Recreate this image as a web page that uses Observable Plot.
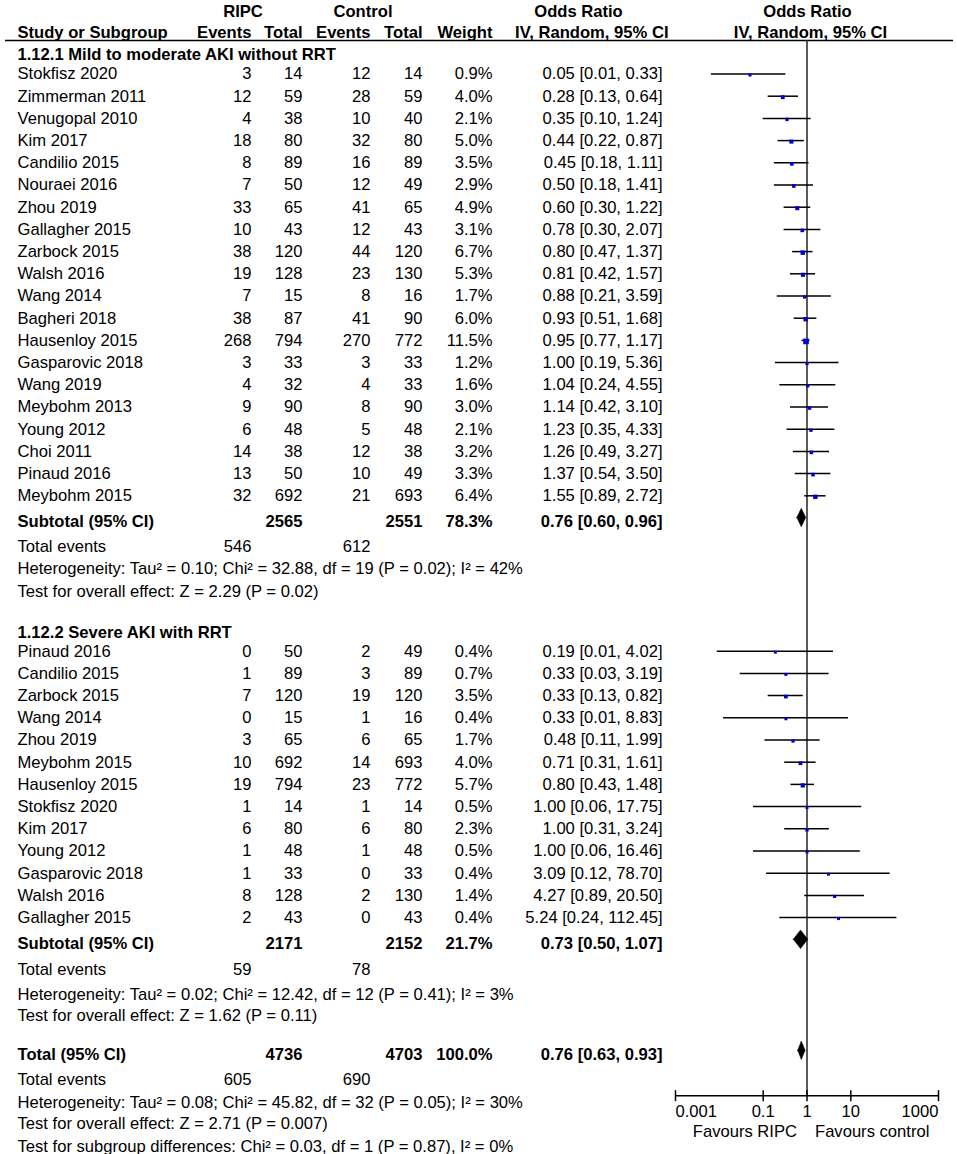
<!DOCTYPE html>
<html><head><meta charset="utf-8">
<script src="https://cdn.jsdelivr.net/npm/d3@7"></script>
<script src="https://cdn.jsdelivr.net/npm/@observablehq/plot@0.6"></script>
<style>body{margin:0;background:#fff}</style>
</head><body><div id="chart"></div>
<script>
// ---------- DATA ----------
const sec1Title = "1.12.1 Mild to moderate AKI without RRT";
const study1 = ["Stokfisz 2020","Zimmerman 2011","Venugopal 2010","Kim 2017","Candilio 2015","Nouraei 2016","Zhou 2019","Gallagher 2015","Zarbock 2015","Walsh 2016","Wang 2014","Bagheri 2018","Hausenloy 2015","Gasparovic 2018","Wang 2019","Meybohm 2013","Young 2012","Choi 2011","Pinaud 2016","Meybohm 2015"];
const ripcEvents1 = [3,12,4,18,8,7,33,10,38,19,7,38,268,3,4,9,6,14,13,32];
const ripcTotal1  = [14,59,38,80,89,50,65,43,120,128,15,87,794,33,32,90,48,38,50,692];
const ctrlEvents1 = [12,28,10,32,16,12,41,12,44,23,8,41,270,3,4,8,5,12,10,21];
const ctrlTotal1  = [14,59,40,80,89,49,65,43,120,130,16,90,772,33,33,90,48,38,49,693];
const weight1 = [0.9,4.0,2.1,5.0,3.5,2.9,4.9,3.1,6.7,5.3,1.7,6.0,11.5,1.2,1.6,3.0,2.1,3.2,3.3,6.4];
const or1 = [0.05,0.28,0.35,0.44,0.45,0.50,0.60,0.78,0.80,0.81,0.88,0.93,0.95,1.00,1.04,1.14,1.23,1.26,1.37,1.55];
const lo1 = [0.0066,0.13,0.10,0.22,0.18,0.18,0.30,0.30,0.47,0.42,0.21,0.51,0.77,0.19,0.24,0.42,0.35,0.49,0.54,0.89];
const hi1 = [0.33,0.64,1.24,0.87,1.11,1.41,1.22,2.07,1.37,1.57,3.59,1.68,1.17,5.36,4.55,3.10,4.33,3.27,3.50,2.72];

const sec2Title = "1.12.2 Severe AKI with RRT";
const study2 = ["Pinaud 2016","Candilio 2015","Zarbock 2015","Wang 2014","Zhou 2019","Meybohm 2015","Hausenloy 2015","Stokfisz 2020","Kim 2017","Young 2012","Gasparovic 2018","Walsh 2016","Gallagher 2015"];
const ripcEvents2 = [0,1,7,0,3,10,19,1,6,1,1,8,2];
const ripcTotal2  = [50,89,120,15,65,692,794,14,80,48,33,128,43];
const ctrlEvents2 = [2,3,19,1,6,14,23,1,6,1,0,2,0];
const ctrlTotal2  = [49,89,120,16,65,693,772,14,80,48,33,130,43];
const weight2 = [0.4,0.7,3.5,0.4,1.7,4.0,5.7,0.5,2.3,0.5,0.4,1.4,0.4];
const or2 = [0.19,0.33,0.33,0.33,0.48,0.71,0.80,1.00,1.00,1.00,3.09,4.27,5.24];
const lo2 = [0.009,0.03,0.13,0.0125,0.11,0.31,0.43,0.06,0.31,0.06,0.12,0.89,0.24];
const hi2 = [4.02,3.19,0.82,8.83,1.99,1.61,1.48,17.75,3.24,16.46,78.70,20.50,112.45];

// summaries: subgroup 1, subgroup 2, overall
const sumLabels = ["Subtotal (95% CI)","Subtotal (95% CI)","Total (95% CI)"];
const sumRipcTotal = [2565,2171,4736];
const sumCtrlTotal = [2551,2152,4703];
const sumWeight = [78.3,21.7,100.0];
const sumOr = [0.76,0.73,0.76];
const sumLo = [0.60,0.50,0.63];
const sumHi = [0.96,1.07,0.93];
const sumRipcEvents = [546,59,605];
const sumCtrlEvents = [612,78,690];
const hetTexts = [
  "Heterogeneity: Tau² = 0.10; Chi² = 32.88, df = 19 (P = 0.02); I² = 42%",
  "Heterogeneity: Tau² = 0.02; Chi² = 12.42, df = 12 (P = 0.41); I² = 3%",
  "Heterogeneity: Tau² = 0.08; Chi² = 45.82, df = 32 (P = 0.05); I² = 30%"
];
const effectTexts = [
  "Test for overall effect: Z = 2.29 (P = 0.02)",
  "Test for overall effect: Z = 1.62 (P = 0.11)",
  "Test for overall effect: Z = 2.71 (P = 0.007)"
];
const subgroupText = "Test for subgroup differences: Chi² = 0.03, df = 1 (P = 0.87), I² = 0%";

const headerTop = ["RIPC","Control","Odds Ratio","Odds Ratio"];
const headerBottom = ["Study or Subgroup","Events","Total","Events","Total","Weight","IV, Random, 95% CI","IV, Random, 95% CI"];
const tickValues = [0.001, 0.1, 1, 10, 1000];
const tickLabels = ["0.001","0.1","1","10","1000"];
const favourLabels = ["Favours RIPC","Favours control"];

// ---------- LAYOUT ----------
const W = 957, H = 1154, FS = 16.6;
const ROW_PX = 22.2, FIRST_PX = 73.5;          // row 1 centre, row pitch
const yDomain = [1 - FIRST_PX / ROW_PX, 1 + (H - FIRST_PX) / ROW_PX];
const COL = {name: 17, re: 251, rt: 302, ce: 370, ct: 422, w: 492, or: 662};
const hdrRow1 = -1.8, hdrRow2 = -0.86, ruleRow = -0.51;
const secRows = [0.12, 26.17];
const sumRows = [21, 40, 45];           // diamond rows
const sumTextShift = 0.18;
const eventsRows = [22.27, 41.33, 46.28];
const hetRows = [23.3, 42.46, 47.32];
const effectRows = [24.3, 43.4, 48.3];
const subgroupRow = 49.33;
const axisRow = 47.02;
const diamondHalf = 0.42;

const fmtCI = (o, l, h) => `${o.toFixed(2)} [${l.toFixed(2)}, ${h.toFixed(2)}]`;

const studies = [
  ...study1.map((s, i) => ({name: s, re: ripcEvents1[i], rt: ripcTotal1[i], ce: ctrlEvents1[i], ct: ctrlTotal1[i], w: weight1[i], or: or1[i], lo: lo1[i], hi: hi1[i], row: 1 + i})),
  ...study2.map((s, i) => ({name: s, re: ripcEvents2[i], rt: ripcTotal2[i], ce: ctrlEvents2[i], ct: ctrlTotal2[i], w: weight2[i], or: or2[i], lo: lo2[i], hi: hi2[i], row: 27 + i}))
];
const sums = sumLabels.map((s, i) => ({name: s, rt: sumRipcTotal[i], ct: sumCtrlTotal[i], w: sumWeight[i], or: sumOr[i], lo: sumLo[i], hi: sumHi[i], row: sumRows[i], trow: sumRows[i] + sumTextShift, re: sumRipcEvents[i], ce: sumCtrlEvents[i], erow: eventsRows[i]}));
const diamondPts = sums.flatMap((d, k) => [
  {k, x: d.lo, y1: d.row, y2: d.row},
  {k, x: d.or, y1: d.row - diamondHalf, y2: d.row + diamondHalf},
  {k, x: d.hi, y1: d.row, y2: d.row}
]);

const txt = (data, o) => Plot.text(data, {frameAnchor: "left", fontSize: FS, fill: "black", lineAnchor: "middle", ...o});
const one = (t, row, dx, anchor, bold) => txt([t], {y: () => row, dx, text: d => d, textAnchor: anchor, fontWeight: bold ? "bold" : "normal"});

const vtick = {draw(ctx, size) { const r = Math.sqrt(size / Math.PI); ctx.moveTo(0, -r); ctx.lineTo(0, r); }};

const hdrTopX = [[242.5,"middle"],[362.5,"middle"],[578,"middle"],[807,"middle"]];
const hdrBotX = [[COL.name,"start"],[COL.re,"end"],[COL.rt,"end"],[COL.ce,"end"],[COL.ct,"end"],[COL.w,"end"],[668,"end"],[810,"middle"]];

const marks = [
  // headers
  ...headerTop.map((t, i) => one(t, hdrRow1, hdrTopX[i][0], hdrTopX[i][1], true)),
  ...headerBottom.map((t, i) => one(t, hdrRow2, hdrBotX[i][0], hdrBotX[i][1], true)),
  Plot.ruleY([ruleRow], {y: d => d, insetLeft: 5, insetRight: 4, stroke: "black", strokeWidth: 1.5}),
  // section titles
  one(sec1Title, secRows[0], COL.name, "start", true),
  one(sec2Title, secRows[1], COL.name, "start", true),
  // study columns
  txt(studies, {y: "row", dx: COL.name, text: "name", textAnchor: "start"}),
  txt(studies, {y: "row", dx: COL.re, text: d => String(d.re), textAnchor: "end"}),
  txt(studies, {y: "row", dx: COL.rt, text: d => String(d.rt), textAnchor: "end"}),
  txt(studies, {y: "row", dx: COL.ce, text: d => String(d.ce), textAnchor: "end"}),
  txt(studies, {y: "row", dx: COL.ct, text: d => String(d.ct), textAnchor: "end"}),
  txt(studies, {y: "row", dx: COL.w, text: d => d.w.toFixed(1) + "%", textAnchor: "end"}),
  txt(studies, {y: "row", dx: COL.or, text: d => fmtCI(d.or, d.lo, d.hi), textAnchor: "end"}),
  // summary rows (bold)
  txt(sums, {y: "trow", dx: COL.name, text: "name", textAnchor: "start", fontWeight: "bold"}),
  txt(sums, {y: "trow", dx: COL.rt, text: d => String(d.rt), textAnchor: "end", fontWeight: "bold"}),
  txt(sums, {y: "trow", dx: COL.ct, text: d => String(d.ct), textAnchor: "end", fontWeight: "bold"}),
  txt(sums, {y: "trow", dx: COL.w, text: d => d.w.toFixed(1) + "%", textAnchor: "end", fontWeight: "bold"}),
  txt(sums, {y: "trow", dx: COL.or, text: d => fmtCI(d.or, d.lo, d.hi), textAnchor: "end", fontWeight: "bold"}),
  // total events
  txt(sums, {y: "erow", dx: COL.name, text: () => "Total events", textAnchor: "start"}),
  txt(sums, {y: "erow", dx: COL.re, text: d => String(d.re), textAnchor: "end"}),
  txt(sums, {y: "erow", dx: COL.ce, text: d => String(d.ce), textAnchor: "end"}),
  // heterogeneity and tests
  txt(hetTexts, {y: (d, i) => hetRows[i], dx: COL.name, text: d => d, textAnchor: "start"}),
  txt(effectTexts, {y: (d, i) => effectRows[i], dx: COL.name, text: d => d, textAnchor: "start"}),
  one(subgroupText, subgroupRow, COL.name, "start", false),
  // forest plot
  Plot.ruleX([1], {x: d => d, y1: ruleRow, y2: axisRow, stroke: "#222", strokeWidth: 1.5}),
  Plot.ruleY(studies, {y: "row", x1: "lo", x2: "hi", stroke: "black", strokeWidth: 1.5}),
  Plot.dot(studies, {x: "or", y: "row", r: "w", symbol: "square", fill: "#0000d0", dy: 1}),
  Plot.areaY(diamondPts, {x: "x", y1: "y1", y2: "y2", z: "k", fill: "black", stroke: "black", strokeWidth: 0.5, curve: "linear"}),
  // axis
  Plot.ruleY([axisRow], {y: d => d, x1: tickValues[0], x2: tickValues[tickValues.length - 1], stroke: "black", strokeWidth: 1.5}),
  Plot.dot(tickValues, {x: d => d, y: () => axisRow, symbol: vtick, r: 5.5, stroke: "black", strokeWidth: 1.5, fill: "none"}),
  Plot.text([0], {x: i => tickValues[i], y: () => axisRow, text: i => tickLabels[i], dy: 16, textAnchor: "start", fontSize: FS, fill: "black"}),
  Plot.text([1, 2, 3], {x: i => tickValues[i], y: () => axisRow, text: i => tickLabels[i], dy: 16, textAnchor: "middle", fontSize: FS, fill: "black"}),
  Plot.text([4], {x: i => tickValues[i], y: () => axisRow, text: i => tickLabels[i], dy: 16, textAnchor: "end", fontSize: FS, fill: "black"}),
  Plot.text([favourLabels[0]], {x: () => 1, y: () => axisRow, text: d => d, dy: 36, dx: -10, textAnchor: "end", fontSize: FS, fill: "black"}),
  Plot.text([favourLabels[1]], {x: () => 1, y: () => axisRow, text: d => d, dy: 36, dx: 8, textAnchor: "start", fontSize: FS, fill: "black"})
];

const chart = Plot.plot({
  width: W, height: H,
  marginTop: 0, marginRight: 0, marginBottom: 0, marginLeft: 0,
  style: {fontFamily: "'Liberation Sans', Arial, sans-serif", fontSize: FS + "px", background: "white", color: "black", overflow: "visible"},
  x: {type: "log", domain: [tickValues[0], tickValues[tickValues.length - 1]], range: [675, 938], axis: null},
  y: {domain: yDomain, range: [0, H], axis: null},
  r: {type: "linear", domain: [0, 11.5], range: [1.6, 3.2]},
  marks
});
document.getElementById("chart").appendChild(chart);
</script>
</body></html>
